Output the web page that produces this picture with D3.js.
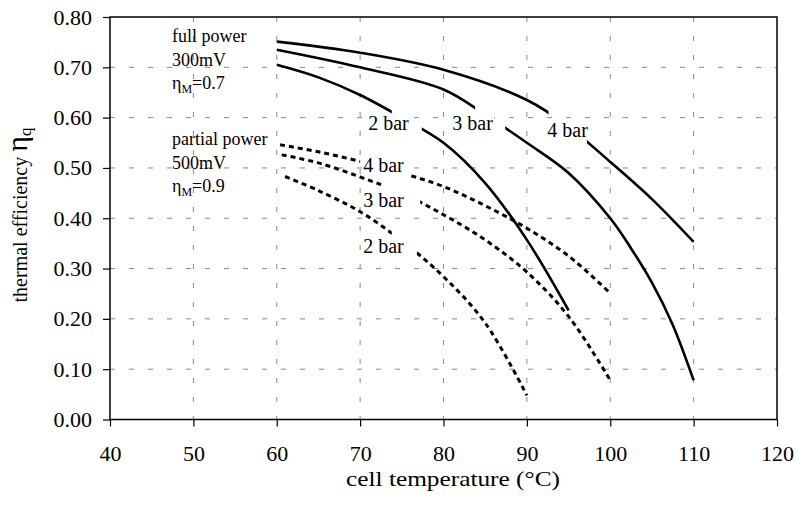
<!DOCTYPE html>
<html>
<head>
<meta charset="utf-8">
<script src="https://cdn.jsdelivr.net/npm/d3@7"></script>
<style>
  html, body { margin: 0; padding: 0; background: #fff; }
  svg text { font-family: "Liberation Serif", "Times New Roman", serif; fill: #000; }
</style>
</head>
<body>
<svg id="chart" width="798" height="505"></svg>
<script>
// ---- data ----
const xTicks = [40, 50, 60, 70, 80, 90, 100, 110, 120];
const yTicks = [0, 0.1, 0.2, 0.3, 0.4, 0.5, 0.6, 0.7, 0.8];

// full power (300mV, ηM=0.7) – solid  [temperature °C, efficiency]
const full4 = [[60,0.751],[70,0.729],[80,0.695],[90,0.635],[95,0.582],[100,0.512],[105,0.438],[110,0.353]];
const full3 = [[60,0.735],[70,0.700],[80,0.656],[85,0.606],[90,0.550],[95,0.49],[100,0.40],[102.5,0.34],[105,0.272],[107.5,0.188],[110,0.078]];
const full2 = [[60,0.705],[65,0.68],[70,0.645],[75,0.60],[80,0.550],[85,0.47],[90,0.357],[95,0.217]];

// partial power (500mV, ηM=0.9) – dashed
const part4 = [[60.4,0.546],[65,0.532],[70,0.513],[75,0.49],[80,0.463],[85,0.425],[90,0.38],[95,0.325],[100,0.251]];
const part3 = [[60.6,0.526],[65,0.51],[70,0.482],[75,0.45],[80,0.407],[85,0.357],[90,0.293],[95,0.205],[100,0.078]];
const part2 = [[61,0.483],[65,0.455],[70,0.413],[75,0.355],[80,0.284],[85,0.192],[90,0.048]];

// where each curve is interrupted by its label (°C)
const full4Gap = [92.6, 97.2];
const full3Gap = [83.8, 87.4];
const full2Gap = [73.8, 77.4];
const part4Gap = [70, 76];
const part3Gap = [72.6, 77.2];
const part2Gap = [73.8, 76.8];

// curve labels: text, anchor temperature, anchor efficiency (baseline)
const labelText = ["2 bar", "3 bar", "4 bar", "4 bar", "3 bar", "2 bar"];
const labelT    = [70.96, 81.05, 92.45, 70.36, 70.36, 70.36];
const labelV    = [0.576, 0.576, 0.562, 0.492, 0.422, 0.331];

const annoFull    = ["full power", "300mV", "=0.7"];
const annoPartial = ["partial power", "500mV", "=0.9"];

// ---- layout ----
const svg = d3.select("#chart");
const L = 110, R = 777, T = 17, B = 419.5;
const x = d3.scaleLinear().domain([40, 120]).range([L, R]);
const y = d3.scaleLinear().domain([0, 0.8]).range([B, T]);

// grid
const grid = svg.append("g");
grid.selectAll("line.gx").data(xTicks.slice(1, -1)).join("line")
  .attr("x1", d => x(d)).attr("x2", d => x(d)).attr("y1", T).attr("y2", B)
  .attr("stroke", "#8a8a8a").attr("stroke-width", 1).attr("stroke-dasharray", "5,14");
grid.selectAll("line.gy").data(yTicks.slice(1, -1)).join("line")
  .attr("x1", L).attr("x2", R).attr("y1", d => y(d)).attr("y2", d => y(d))
  .attr("stroke", "#8a8a8a").attr("stroke-width", 1).attr("stroke-dasharray", "5,14");

// axes
const fmt = d3.format(".2f");
const yAxis = svg.append("g").attr("transform", `translate(${L},0)`)
  .call(d3.axisLeft(y).tickValues(yTicks).tickFormat(fmt).tickSize(7).tickPadding(11));
const xAxis = svg.append("g").attr("transform", `translate(0,${B})`)
  .call(d3.axisBottom(x).tickValues(xTicks).tickSize(7).tickPadding(19));
[yAxis, xAxis].forEach(a => {
  a.select(".domain").remove();
  a.selectAll("line").attr("stroke", "#000").attr("stroke-width", 1.2);
  a.selectAll("text").attr("font-size", 22);
});

// frame
svg.append("rect").attr("x", L).attr("y", T).attr("width", R - L).attr("height", B - T)
  .attr("fill", "none").attr("stroke", "#000").attr("stroke-width", 1.5);

// curve labels with white background (hides grid behind text)
const lab = svg.append("g");
labelText.forEach((t, i) => {
  const g = lab.append("g");
  const tx = g.append("text").attr("x", x(labelT[i])).attr("y", y(labelV[i]))
    .attr("font-size", 20).text(t);
  const bb = tx.node().getBBox();
  g.insert("rect", "text").attr("x", bb.x - 1).attr("y", bb.y + 2)
    .attr("width", bb.width + 2).attr("height", bb.height - 4).attr("fill", "#fff");
});

// curves, each interrupted where its label sits
const defs = svg.append("defs");
const line = d3.line().x(d => x(d[0])).y(d => y(d[1])).curve(d3.curveCatmullRom.alpha(0.5));
const series = [
  {d: full4, gap: full4Gap, dash: null},
  {d: full3, gap: full3Gap, dash: null},
  {d: full2, gap: full2Gap, dash: null},
  {d: part4, gap: part4Gap, dash: "5,4"},
  {d: part3, gap: part3Gap, dash: "5,4"},
  {d: part2, gap: part2Gap, dash: "5,4"}
];
series.forEach((s, i) => {
  const cp = defs.append("clipPath").attr("id", "gap" + i);
  cp.append("rect").attr("x", 0).attr("y", 0).attr("width", x(s.gap[0])).attr("height", 505);
  cp.append("rect").attr("x", x(s.gap[1])).attr("y", 0).attr("width", 798 - x(s.gap[1])).attr("height", 505);
  svg.append("path").attr("d", line(s.d)).attr("clip-path", `url(#gap${i})`)
    .attr("fill", "none").attr("stroke", "#000")
    .attr("stroke-width", s.dash ? 3 : 2.6)
    .attr("stroke-dasharray", s.dash);
});

// annotations
function annot(lines, y0) {
  lines.forEach((ln, i) => {
    const t = svg.append("text").attr("x", 172).attr("y", y0 + i * 23.5).attr("font-size", 18);
    if (i < 2) t.text(ln);
    else {
      t.append("tspan").text("η");
      t.append("tspan").attr("font-size", 12).attr("dy", 4).text("M");
      t.append("tspan").attr("dy", -4).text(ln);
    }
  });
}
annot(annoFull, 42);
annot(annoPartial, 145);

// axis titles
svg.append("text").attr("x", 453).attr("y", 486).attr("text-anchor", "middle")
  .attr("font-size", 21).attr("textLength", 214).attr("lengthAdjust", "spacingAndGlyphs")
  .text("cell temperature (°C)");
const yt = svg.append("text").attr("transform", "translate(27,215) rotate(-90)")
  .attr("text-anchor", "middle").attr("font-size", 20);
yt.append("tspan").text("thermal efficiency ");
yt.append("tspan").attr("font-size", 30).text("η");
yt.append("tspan").attr("font-size", 17).attr("dy", 4).text("q");
</script>
</body>
</html>
